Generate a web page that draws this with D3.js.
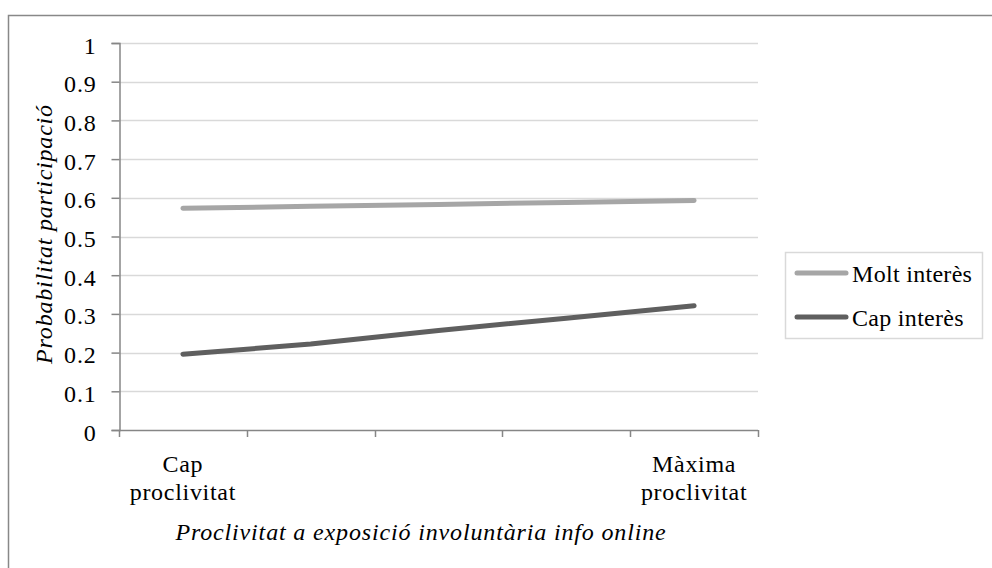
<!DOCTYPE html>
<html>
<head>
<meta charset="utf-8">
<script src="https://cdn.jsdelivr.net/npm/d3@7"></script>
<style>
  html, body { margin: 0; padding: 0; background: #fff; }
</style>
</head>
<body>
<svg id="chart" width="992" height="568"></svg>
<script>
const categories = ["c1", "c2", "c3", "c4", "c5"];
const categoryLabels = [["Cap", "proclivitat"], [], [], [], ["Màxima", "proclivitat"]];
const seriesNames = ["Molt interès", "Cap interès"];
const moltInteres = [0.573, 0.578, 0.583, 0.588, 0.593];
const capInteres = [0.196, 0.222, 0.257, 0.289, 0.321];
const yTicks = [0, 0.1, 0.2, 0.3, 0.4, 0.5, 0.6, 0.7, 0.8, 0.9, 1];
const seriesColors = ["#a6a6a6", "#5f5f5f"];
const yTitle = "Probabilitat participació";
const xTitle = "Proclivitat a exposició involuntària info online";

(function () {
const FONT = "'Liberation Serif', 'Times New Roman', serif";
const FS = "24px";
const svg = d3.select("#chart").attr("font-family", FONT);
const pL = 119, pR = 758, pT = 43, pB = 430;

svg.append("rect").attr("x", 8.5).attr("y", 15.5).attr("width", 1000).attr("height", 600)
  .attr("fill", "#fff").attr("stroke", "#888").attr("stroke-width", 1.5);

const x = d3.scaleBand().domain(categories).range([pL, pR]).padding(0);
const y = d3.scaleLinear().domain([0, 1]).range([pB, pT]);

svg.append("g").selectAll("line").data(yTicks.filter(d => d > 0)).join("line")
  .attr("x1", pL).attr("x2", pR)
  .attr("y1", d => Math.round(y(d)) + 0.5).attr("y2", d => Math.round(y(d)) + 0.5)
  .attr("stroke", "#d9d9d9").attr("stroke-width", 1.5);

const yAxis = d3.axisLeft(y).tickValues(yTicks).tickSize(8).tickPadding(15)
  .tickFormat(d => String(+d.toFixed(1)));
const gy = svg.append("g").attr("transform", `translate(${pL + 0.5},0)`).call(yAxis);
gy.attr("font-family", FONT).attr("font-size", FS);
gy.select(".domain").attr("stroke", "#868686").attr("stroke-width", 1.5);
gy.selectAll(".tick line").attr("stroke", "#868686").attr("stroke-width", 1.5);
gy.selectAll(".tick text").attr("fill", "#000").attr("dy", "0.42em").attr("letter-spacing", "0.8px");

const bounds = categories.map(c => x(c)).concat([x(categories[categories.length - 1]) + x.bandwidth()]);
const gx = svg.append("g").attr("font-family", FONT).attr("font-size", FS);
gx.append("line").attr("x1", pL).attr("x2", pR)
  .attr("y1", pB + 0.5).attr("y2", pB + 0.5)
  .attr("stroke", "#868686").attr("stroke-width", 1.5);
gx.selectAll("line.tk").data(bounds).join("line").attr("class", "tk")
  .attr("x1", d => Math.round(d) + 0.5).attr("x2", d => Math.round(d) + 0.5)
  .attr("y1", pB).attr("y2", pB + 7)
  .attr("stroke", "#868686").attr("stroke-width", 1.5);
categories.forEach((c, i) => {
  categoryLabels[i].forEach((t, j) => {
    gx.append("text").attr("x", x(c) + x.bandwidth() / 2).attr("y", 472 + j * 28)
      .attr("text-anchor", "middle").attr("letter-spacing", "0.7px").text(t);
  });
});

const line = d3.line().x((d, i) => x(categories[i]) + x.bandwidth() / 2).y(d => y(d));
[moltInteres, capInteres].forEach((vals, k) => {
  svg.append("path").datum(vals).attr("d", line).attr("fill", "none")
    .attr("stroke", seriesColors[k]).attr("stroke-width", 5).attr("stroke-linecap", "round")
    .attr("stroke-linejoin", "round");
});

svg.append("text").attr("transform", "translate(52,234) rotate(-90)")
  .attr("text-anchor", "middle").attr("font-size", FS).attr("font-style", "italic")
  .attr("letter-spacing", "0.8px").text(yTitle);
svg.append("text").attr("x", 421).attr("y", 540)
  .attr("text-anchor", "middle").attr("font-size", FS).attr("font-style", "italic")
  .attr("letter-spacing", "0.85px").text(xTitle);

const lg = svg.append("g").attr("font-size", FS);
lg.append("rect").attr("x", 785.5).attr("y", 252.5).attr("width", 197).attr("height", 86)
  .attr("fill", "#fff").attr("stroke", "#d9d9d9").attr("stroke-width", 1.5);
seriesNames.forEach((n, k) => {
  const yy = 273 + k * 44;
  lg.append("line").attr("x1", 797).attr("x2", 846).attr("y1", yy).attr("y2", yy)
    .attr("stroke", seriesColors[k]).attr("stroke-width", 5).attr("stroke-linecap", "round");
  lg.append("text").attr("x", 852).attr("y", yy + 9).attr("letter-spacing", "0.3px").text(n);
});
})();
</script>
</body>
</html>
